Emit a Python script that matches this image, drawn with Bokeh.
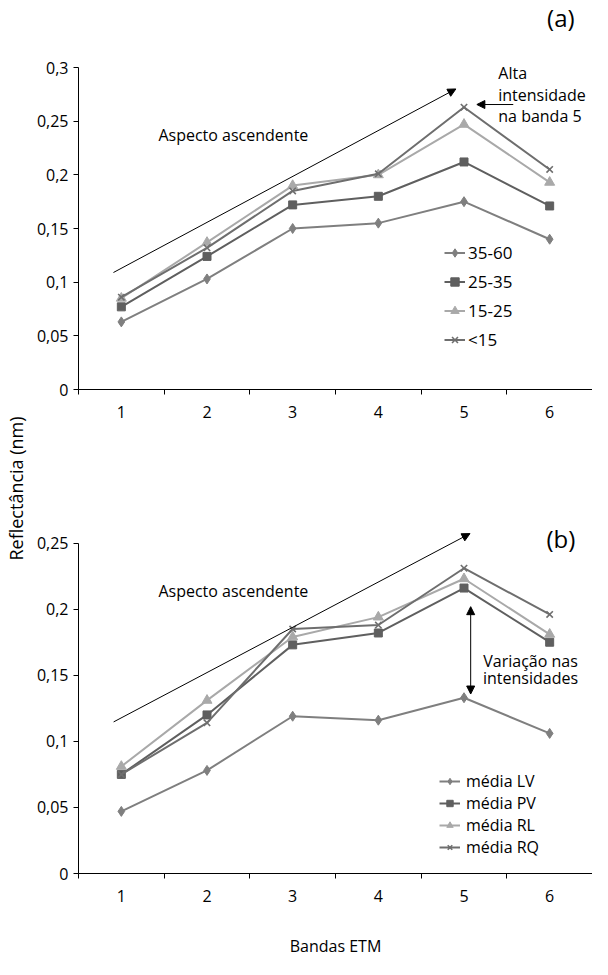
import math
from bokeh.plotting import figure
from bokeh.models import (Range1d, FixedTicker, CustomJSTickFormatter, Legend, LegendItem,
                          Arrow, NormalHead)
from bokeh.layouts import row, column
from bokeh.core.properties import value
from bokeh.embed import file_html
from bokeh.resources import INLINE

FONT = "Open Sans"

# ---------------- data ----------------
bands = [1, 2, 3, 4, 5, 6]
band_labels = ["1", "2", "3", "4", "5", "6"]

# chart (a)
a_labels = ["35-60", "25-35", "15-25", "<15"]
a_35_60 = [0.063, 0.103, 0.150, 0.155, 0.175, 0.140]
a_25_35 = [0.077, 0.124, 0.172, 0.180, 0.212, 0.171]
a_15_25 = [0.085, 0.137, 0.190, 0.200, 0.247, 0.193]
a_lt15 = [0.086, 0.132, 0.185, 0.201, 0.263, 0.205]
a_yticks = [0, 0.05, 0.1, 0.15, 0.2, 0.25, 0.3]

# chart (b)
b_labels = ["média LV", "média PV", "média RL", "média RQ"]
b_lv = [0.047, 0.078, 0.119, 0.116, 0.133, 0.106]
b_pv = [0.075, 0.120, 0.173, 0.182, 0.216, 0.175]
b_rl = [0.081, 0.131, 0.179, 0.194, 0.223, 0.181]
b_rq = [0.075, 0.114, 0.185, 0.188, 0.231, 0.196]
b_yticks = [0, 0.05, 0.1, 0.15, 0.2, 0.25]

colors = ["#7f7f7f", "#5f5f5f", "#a9a9a9", "#6e6e6e"]
markers = ["diamond", "square", "triangle", "x"]
msizes = [10, 8, 10, 9]

LEFT_W = 30
CHART_W = 562


def make_chart(height, b_top, b_bottom, y_end, y_bound, yticks, series, labels,
               leg_loc, leg_label_h, leg_spacing, leg_standoff, leg_font):
    p = figure(width=CHART_W, height=height, title=None,
               x_range=Range1d(0.5, 6.5), y_range=Range1d(0, y_end),
               output_backend="svg", toolbar_location=None,
               min_border_left=48, min_border_right=0,
               min_border_top=b_top, min_border_bottom=b_bottom)
    p.grid.visible = False
    p.outline_line_color = None
    p.background_fill_color = "white"
    p.border_fill_color = "white"

    xa = p.xaxis[0]
    xa.ticker = FixedTicker(ticks=bands, minor_ticks=[0.5 + i for i in range(7)])
    xa.major_label_overrides = {b: l for b, l in zip(bands, band_labels)}
    xa.major_tick_line_color = None
    xa.major_tick_out = 0
    xa.major_tick_in = 0
    xa.minor_tick_out = 5
    xa.minor_tick_in = 0
    xa.minor_tick_line_color = "black"
    xa.axis_line_color = "black"
    xa.major_label_standoff = 11
    xa.major_label_text_font = FONT
    xa.major_label_text_font_size = "16px"
    xa.major_label_text_color = "black"

    ya = p.yaxis[0]
    ya.ticker = FixedTicker(ticks=yticks)
    ya.bounds = (0, y_bound)
    ya.formatter = CustomJSTickFormatter(code="return String(tick).replace('.', ',');")
    ya.major_tick_out = 5
    ya.major_tick_in = 0
    ya.minor_tick_line_color = None
    ya.major_tick_line_color = "black"
    ya.axis_line_color = "black"
    ya.major_label_standoff = 5
    ya.major_label_text_font = FONT
    ya.major_label_text_font_size = "16px"
    ya.major_label_text_color = "black"

    items = []
    for vals, lab, c, m, s in zip(series, labels, colors, markers, msizes):
        r1 = p.line(bands, vals, line_color=c, line_width=2)
        r2 = p.scatter(bands, vals, marker=m, size=s, fill_color=c, line_color=c,
                       line_width=1.6 if m == "x" else 1)
        items.append(LegendItem(label=lab, renderers=[r1, r2]))
    leg = Legend(items=items, location=leg_loc, border_line_color=None,
                 background_fill_alpha=0, padding=0, margin=0,
                 spacing=leg_spacing, label_height=leg_label_h, glyph_height=leg_label_h,
                 glyph_width=21, label_standoff=leg_standoff,
                 label_text_font=FONT, label_text_font_size=leg_font,
                 label_text_color="black")
    p.add_layout(leg)
    return p


def add_arrow(p, x0, y0, x1, y1, both=False):
    head = NormalHead(size=8, fill_color="black", line_color="black")
    kw = {}
    if both:
        kw["start"] = NormalHead(size=8, fill_color="black", line_color="black")
    p.add_layout(Arrow(end=head, x_start=x0, y_start=y0, x_end=x1, y_end=y1,
                       line_color="black", line_width=1, **kw))


def add_text(p, xs, ys, texts, size="16px", align="left"):
    p.text(x=xs, y=ys, text=texts, text_font=value(FONT), text_font_size=value(size),
           text_align=align, text_baseline="middle", text_color="black")


# ---------------- chart (a) ----------------
pa = make_chart(432, 2, 43, 0.36056, 0.3, a_yticks,
                [a_35_60, a_25_35, a_15_25, a_lt15], a_labels,
                (366, 38), 21, 6, 3, "17px")
add_arrow(pa, 0.908, 0.109, 4.905, 0.280)
add_arrow(pa, 5.575, 0.2655, 5.15, 0.2655)
add_text(pa, [1.433], [0.237], ["Aspecto ascendente"])
add_text(pa, [5.40, 5.40, 5.40], [0.2950, 0.2745, 0.2550],
         ["Alta", "intensidade", "na banda 5"])
add_text(pa, [6.13], [0.3466], ["(a)"], size="24px", align="center")

# ---------------- chart (b) ----------------
pb = make_chart(527, 10, 80, 0.32612, 0.25, b_yticks,
                [b_lv, b_pv, b_rl, b_rq], b_labels,
                (361, 15), 16, 0, 6, "16px")
pb.xaxis[0].axis_label = "Bandas ETM"
pb.xaxis[0].axis_label_standoff = 30
pb.xaxis[0].axis_label_text_font = FONT
pb.xaxis[0].axis_label_text_font_size = "16px"
pb.xaxis[0].axis_label_text_font_style = "normal"
pb.xaxis[0].axis_label_text_color = "black"
add_arrow(pb, 0.91, 0.1147, 5.07, 0.2572)
add_arrow(pb, 5.078, 0.1358, 5.078, 0.2019, both=True)
add_text(pb, [1.433], [0.2134], ["Aspecto ascendente"])
add_text(pb, [5.777, 5.777], [0.1607, 0.1478], ["Variação nas", "intensidades"], align="center")
add_text(pb, [6.13], [0.2537], ["(b)"], size="24px", align="center")

# ---------------- shared y label ----------------
pl = figure(width=LEFT_W, height=959, x_range=Range1d(0, LEFT_W), y_range=Range1d(0, 959),
            output_backend="svg", toolbar_location=None, min_border=0,
            x_axis_location=None, y_axis_location=None, title=None)
pl.outline_line_color = None
pl.grid.visible = False
pl.text(x=[15], y=[471], text=["Reflectância (nm)"], angle=math.pi / 2,
        text_font=value(FONT), text_font_size=value("18px"),
        text_align="center", text_baseline="middle", text_color="black")

layout = row(pl, column(pa, pb))
open("out.html", "w").write(file_html(layout, INLINE))
